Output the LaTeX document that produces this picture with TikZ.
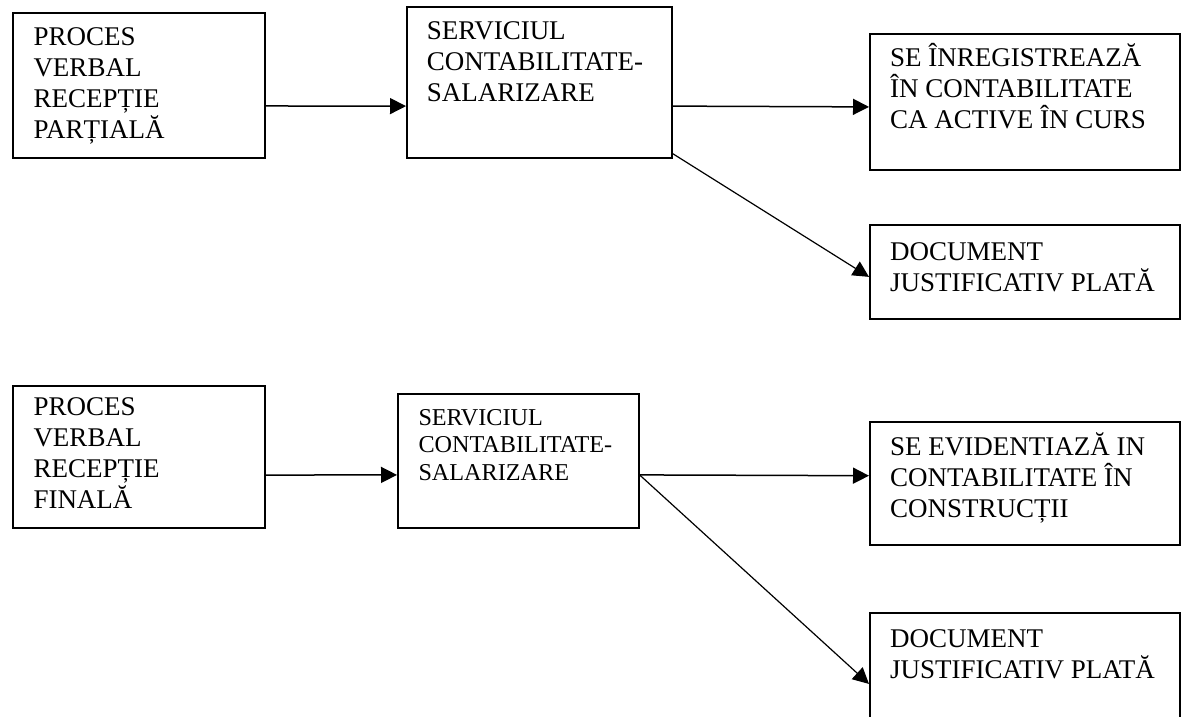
\documentclass[tikz,border=0pt]{standalone}
\usepackage{fontspec}
\setmainfont{Liberation Serif}
\usetikzlibrary{arrows.meta,calc}
\newcommand{\fl}{\rule{0pt}{25pt}}
\tikzset{
  box/.style={draw=black, line width=1.6pt, rectangle, inner sep=0pt, anchor=north west},
  txt/.style={anchor=north west, inner sep=0pt, align=left, font=\fontsize{27}{31}\selectfont},
  txtsmall/.style={anchor=north west, inner sep=0pt, align=left, font=\fontsize{24.2}{27.5}\selectfont},
  arr/.style={line width=1.5pt, -{Triangle[length=16pt,width=16pt]}},
  darr/.style={line width=1.2pt, -{Triangle[length=16pt,width=16pt]}}
}
\begin{document}
\begin{tikzpicture}[x=1pt,y=-1pt]
\clip (0,0) rectangle (1190,716);
\fill[white] (0,0) rectangle (1190,716);
% boxes
\node[box, minimum width=252pt, minimum height=145pt] (A) at (12,12) {};
\node[box, minimum width=265pt, minimum height=151pt] (B) at (406,6) {};
\node[box, minimum width=310pt, minimum height=136pt] (C) at (869,33) {};
\node[box, minimum width=310pt, minimum height=94pt] (D) at (869,224) {};
\node[box, minimum width=252pt, minimum height=142pt] (E) at (12,385) {};
\node[box, minimum width=241pt, minimum height=134pt] (F) at (397,393) {};
\node[box, minimum width=310pt, minimum height=123pt] (G) at (869,421) {};
\node[box, minimum width=310pt, minimum height=128pt] (H) at (869,612) {};
% texts
\node[txt] (At) at (33.3,20) {\fl PROCES\\VERBAL\\RECEPȚIE\\PARȚIALĂ};
\node[txt] (Bt) at (426.7,14) {\fl SERVICIUL\\CONTABILITATE-\\SALARIZARE};
\node[txt] (Ct) at (890,41.7) {\fl SE ÎNREGISTREAZĂ\\ÎN CONTABILITATE\\CA ACTIVE ÎN CURS};
\node[txt] (Dt) at (890,235) {\fl DOCUMENT\\JUSTIFICATIV PLATĂ};
\node[txt] (Et) at (33.3,390) {\fl PROCES\\VERBAL\\RECEPȚIE\\FINALĂ};
\node[txtsmall] (Ft) at (418.3,400) {\fl SERVICIUL\\CONTABILITATE-\\SALARIZARE};
\node[txt] (Gt) at (890,430) {\fl SE EVIDENTIAZĂ IN\\CONTABILITATE ÎN\\CONSTRUCȚII};
\node[txt] (Ht) at (890,622) {\fl DOCUMENT\\JUSTIFICATIV PLATĂ};
% connection points
\coordinate (a1) at ($(A.north east)!0.641!(A.south east)$);
\coordinate (b1) at ($(B.north west)!0.656!(B.south west)$);
\coordinate (b2) at ($(B.north east)!0.656!(B.south east)$);
\coordinate (b3) at ($(B.north east)!0.967!(B.south east)$);
\coordinate (c1) at ($(C.north west)!0.537!(C.south west)$);
\coordinate (d1) at ($(D.north west)!0.553!(D.south west)$);
\coordinate (e1) at ($(E.north east)!0.627!(E.south east)$);
\coordinate (f1) at ($(F.north west)!0.604!(F.south west)$);
\coordinate (f2) at ($(F.north east)!0.604!(F.south east)$);
\coordinate (g1) at ($(G.north west)!0.439!(G.south west)$);
\coordinate (h1) at ($(H.north west)!0.555!(H.south west)$);
% connectors
\draw[arr] (a1) -- (b1);
\draw[arr] (b2) -- (c1);
\draw[darr] (b3) -- (d1);
\draw[arr] (e1) -- (f1);
\draw[arr] (f2) -- (g1);
\draw[darr] (f2) -- (h1);
\end{tikzpicture}
\end{document}
